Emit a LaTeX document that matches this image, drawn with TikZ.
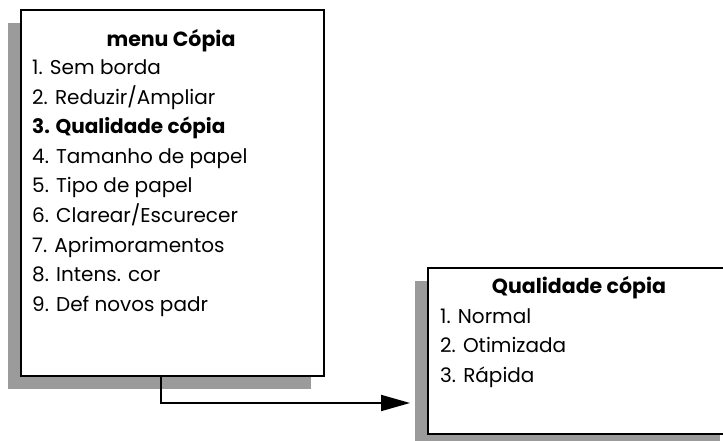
\documentclass[tikz,border=0pt]{standalone}
\usepackage{fontspec}
\setmainfont{Poppins}
\usetikzlibrary{arrows.meta,shadows}
\definecolor{shadowgray}{RGB}{155,155,155}
\tikzset{
  menubox/.style={draw,line width=2.2pt,fill=white,anchor=north west,inner sep=0pt,
    drop shadow={shadow xshift=-13pt,shadow yshift=-13pt,fill=shadowgray,opacity=1}},
  boxtitle/.style={font=\bfseries\fontsize{20.5}{24}\selectfont,anchor=base,inner sep=0pt},
  boxitem/.style={font=\fontsize{20}{24}\selectfont,anchor=base west,inner sep=0pt},
  link/.style={line width=2pt,-{Triangle[length=29pt,width=16pt]}},
}
\begin{document}
\begin{tikzpicture}[x=1pt,y=-1pt,line join=miter]
	\useasboundingbox (0,0) rectangle (723,441);
	% menu Cópia
	\node[menubox,minimum width=303pt,minimum height=366pt] (menu) at (20,9) {};
	\node[boxtitle] (menutitle) at (171,47) {menu Cópia};
	\foreach \t [count=\i] in {1. Sem borda,2. Reduzir/Ampliar,\textbf{3. Qualidade cópia},4. Tamanho de papel,5. Tipo de papel,6. Clarear/Escurecer,7. Aprimoramentos,8. Intens. cor,9. Def novos padr}
		\node[boxitem] (m\i) at (32,{75+29.5*(\i-1)}) {\t};
	% Qualidade cópia
	\node[menubox,minimum width=305pt,minimum height=166pt] (qual) at (427,267) {};
	\node[boxtitle] (qualtitle) at (579,293) {Qualidade cópia};
	\foreach \t [count=\i] in {1. Normal,2. Otimizada,3. Rápida}
		\node[boxitem] (q\i) at (440,{323+29.5*(\i-1)}) {\t};
	% ligação
	\coordinate (bend) at (161,403);
	\draw[link] (menu.south -| bend) |- ([xshift=-17pt]qual.west |- bend);
\end{tikzpicture}
\end{document}
